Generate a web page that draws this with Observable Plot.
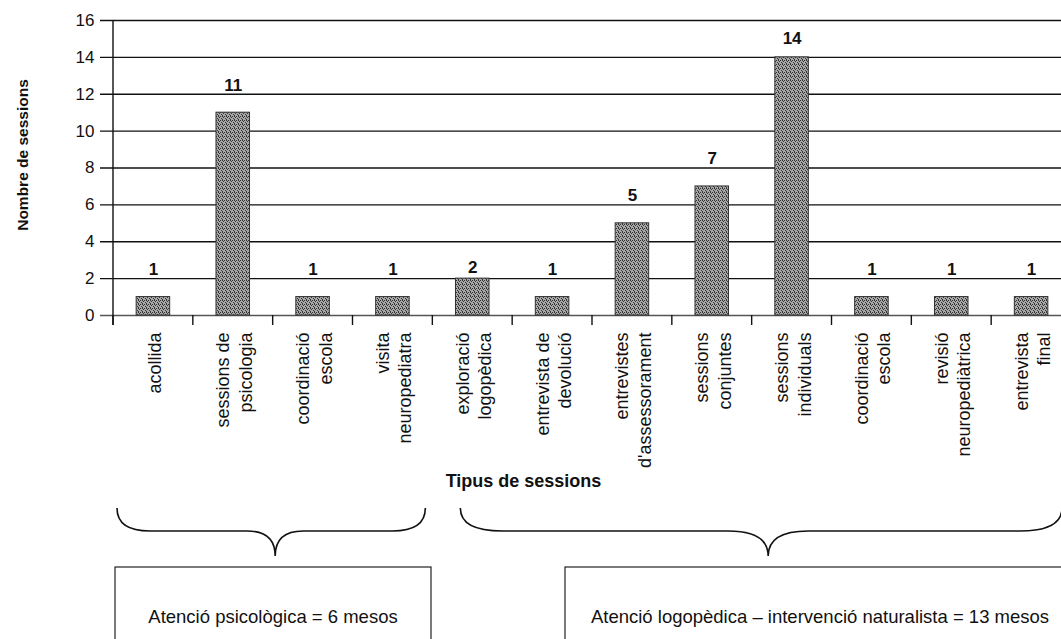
<!DOCTYPE html>
<html><head><meta charset="utf-8">
<script src="https://cdn.jsdelivr.net/npm/d3@7"></script>
<script src="https://cdn.jsdelivr.net/npm/@observablehq/plot@0.6"></script>
<style>html,body{margin:0;padding:0;background:#fff;overflow:hidden}</style>
</head><body><div id="chart"></div>
<script>
const categories = ["acollida","sessions de\npsicologia","coordinació\nescola","visita\nneuropediatra","exploració\nlogopèdica","entrevista de\ndevolució","entrevistes\nd'assessorament","sessions\nconjuntes","sessions\nindividuals","coordinació\nescola","revisió\nneuropediàtrica","entrevista\nfinal"];
const sessions = [1,11,1,1,2,1,5,7,14,1,1,1];
const yTicks = [0,2,4,6,8,10,12,14,16];
const yLabel = "Nombre de sessions";
const xLabel = "Tipus de sessions";
const groupLabels = ["Atenció psicològica = 6 mesos","Atenció logopèdica – intervenció naturalista = 13 mesos"];
const groupFirst = [0,4];
const groupLast = [3,11];

const table = categories.map((c, i) => ({i, c, v: sessions[i]}));
const font = "'Liberation Sans', Arial, Helvetica, sans-serif";

function defs() {
  const g = d3.create("svg:g");
  const p = g.append("defs").append("pattern").attr("id","dither").attr("patternUnits","userSpaceOnUse").attr("width",4).attr("height",4);
  p.append("rect").attr("width",4).attr("height",4).attr("fill","#a8a8a8");
  [[0,0],[3,1],[1,2],[2,3],[2,0]].forEach(([a,b]) =>
    p.append("rect").attr("x",a).attr("y",b).attr("width",1).attr("height",1).attr("fill","#333"));
  return g.node();
}

function annotations(index, scales) {
  const x = scales.x, y = scales.y;
  const step = x(1) - x(0);
  const start = x(0) - (x.bandwidth ? (step - x.bandwidth()) / 2 : step * 0.29);
  const edge = i => start + i * step;
  const g = d3.create("svg:g");
  const y0 = y(0);
  for (let i = 0; i <= categories.length; i++) {
    g.append("line").attr("x1", edge(i)).attr("x2", edge(i)).attr("y1", y0).attr("y2", y0 + 10)
      .attr("stroke", "#111").attr("stroke-width", 1.4);
  }
  const insL = [4, 28], insR = [7, 9], tipOff = [4, 7], rEnd = [33, 42], rTip = [28, 40];
  const yTop = 508, yMid = 531, yTip = 556;
  groupLabels.forEach((lab, k) => {
    const a = edge(groupFirst[k]) + insL[k];
    const b = edge(groupLast[k] + 1) - insR[k];
    const m = (a + b) / 2 + tipOff[k];
    const path = `M${a},${yTop} Q${a},${yMid} ${a + rEnd[k]},${yMid} L${m - rTip[k]},${yMid} Q${m},${yMid} ${m},${yTip} Q${m},${yMid} ${m + rTip[k]},${yMid} L${b - rEnd[k]},${yMid} Q${b},${yMid} ${b},${yTop}`;
    g.append("path").attr("d", path).attr("fill", "none").attr("stroke", "#111").attr("stroke-width", 1.6);
  });
  const boxL = [115, 565], boxR = [431, 1075];
  groupLabels.forEach((lab, k) => {
    g.append("rect").attr("x", boxL[k]).attr("y", 567).attr("width", boxR[k] - boxL[k]).attr("height", 100)
      .attr("fill", "none").attr("stroke", "#222").attr("stroke-width", 1.2);
    g.append("text").attr("x", (boxL[k] + boxR[k]) / 2).attr("y", 623).attr("text-anchor", "middle")
      .attr("font-size", 18.5).attr("font-family", font).attr("fill", "#111").text(lab);
  });
  return g.node();
}

const labelStyle = {x: "i", y: "v", text: d => String(d.v), lineAnchor: "bottom", fontWeight: "bold", fontSize: 17, fill: "#111"};

const chart = Plot.plot({
  width: 1061,
  height: 639,
  marginTop: 20,
  marginBottom: 324,
  marginLeft: 113,
  marginRight: 0,
  style: {fontFamily: font, background: "#fff", color: "#111", overflow: "visible"},
  x: {type: "band", domain: d3.range(categories.length), range: [113, 1071], paddingInner: 0.58, paddingOuter: 0.29, round: false, axis: null},
  y: {domain: [0, 16], axis: null},
  marks: [
    defs,
    Plot.ruleY(yTicks.filter(d => d > 0), {y: d => d, insetLeft: -13, stroke: "#111", strokeWidth: 1.4, strokeOpacity: 1}),
    Plot.ruleY([0], {insetLeft: -13, stroke: "#555", strokeWidth: 1.4}),
    Plot.axisY({ticks: yTicks, tickSize: 0, tickPadding: 19, fontSize: 17, label: null, fill: "#111"}),
    Plot.barY(table, {x: "i", y: "v", fill: "url(#dither)", stroke: "#333", strokeWidth: 1}),
    Plot.text(table.filter(d => d.v !== 2 && d.v !== 14), {...labelStyle, dy: -22}),
    Plot.text(table.filter(d => d.v === 2), {...labelStyle, dy: -6}),
    Plot.text(table.filter(d => d.v === 14), {...labelStyle, dy: -13}),
    Plot.axisX({tickSize: 0, tickPadding: 17, tickRotate: -90, tickFormat: i => categories[i], fontSize: 18, lineHeight: 1.25, textAnchor: "end", lineAnchor: "middle", label: null, fill: "#111"}),
    Plot.text([yLabel], {frameAnchor: "left", rotate: -90, dx: -90, dy: -13, textAnchor: "middle", fontWeight: "bold", fontSize: 15.5, fill: "#111"}),
    Plot.text([xLabel], {frameAnchor: "bottom", dx: -64, dy: 171, textAnchor: "middle", fontWeight: "bold", fontSize: 18, lineAnchor: "bottom", fill: "#111"}),
    annotations
  ]
});
const svg = d3.select(chart);
document.getElementById("chart").appendChild(chart);
svg.append("line").attr("x1",113).attr("x2",113).attr("y1",20).attr("y2",325).attr("stroke","#111").attr("stroke-width",1.4);
</script></body></html>
